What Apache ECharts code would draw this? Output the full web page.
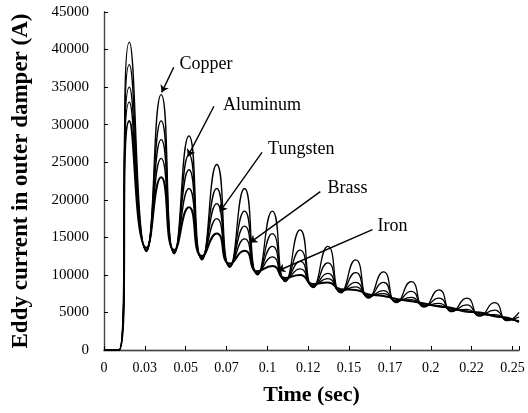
<!DOCTYPE html>
<html>
<head>
<meta charset="utf-8">
<script src="https://cdn.jsdelivr.net/npm/echarts@6/dist/echarts.min.js"></script>
<style>
  html, body { margin:0; padding:0; background:#fff; }
  #chart { width:528px; height:413px; }
</style>
</head>
<body>
<div id="chart"></div>
<script>
// ---- data ----
const timeSec = [0, 0.0092, 0.0155, 0.026, 0.035, 0.043, 0.052, 0.060, 0.069, 0.077, 0.086, 0.094,
  0.103, 0.111, 0.120, 0.128, 0.137, 0.145, 0.154, 0.162, 0.171, 0.179, 0.188, 0.196,
  0.205, 0.213, 0.222, 0.230, 0.239, 0.247, 0.254];

const copper   = [0, 0, 41000, 13100, 34000, 12800, 28500, 12000, 24700, 11000, 21500, 10000,
  18500, 9100, 16000, 8300, 13800, 7600, 12000, 6900, 10400, 6300, 9100, 5700,
  8000, 5100, 6900, 4500, 6300, 3900, 5000];
const aluminum = [0, 0, 38000, 13200, 30500, 12900, 26000, 12100, 21500, 11100, 18500, 10100,
  15500, 9200, 13300, 8400, 11600, 7700, 10300, 7000, 9000, 6400, 7800, 5800,
  6900, 5200, 6000, 4600, 5300, 4000, 4400];
const tungsten = [0, 0, 35000, 13300, 28000, 13000, 24000, 12200, 19500, 11200, 16500, 10200,
  13800, 9300, 11800, 8500, 10200, 7800, 9000, 7100, 7900, 6500, 7000, 5900,
  6200, 5300, 5400, 4700, 4700, 4100, 3900];
const brass    = [0, 0, 33000, 13400, 25500, 13100, 21500, 12300, 17500, 11300, 14800, 10300,
  12400, 9400, 10800, 8600, 9500, 7900, 8400, 7200, 7500, 6600, 6700, 6000,
  5900, 5400, 5200, 4800, 4500, 4200, 3800];
const iron     = [0, 0, 30500, 13600, 23000, 13300, 19000, 12500, 15500, 11500, 13200, 10500,
  11200, 9600, 10000, 8800, 9000, 8100, 8000, 7400, 7200, 6800, 6500, 6200,
  5800, 5600, 5100, 5000, 4500, 4300, 3700];

const seriesNames = ['Copper', 'Aluminum', 'Tungsten', 'Brass', 'Iron'];
const seriesData  = [copper, aluminum, tungsten, brass, iron];

// label positions and leader lines, in data units [t, value]
const labelPos   = [[0.0624, 38050], [0.0967, 32570], [0.1207, 26700], [0.149, 21500], [0.1766, 16420]];
const leaderFrom = [[0.0427, 37650], [0.0673, 32450], [0.0967, 26300], [0.1324, 21090], [0.1643, 16020]];
const leaderTo   = [[0.0353, 34300], [0.0513, 25770], [0.0709, 18420], [0.0894, 14290], [0.1066, 10550]];

const xTickLabels = ['0', '0.03', '0.05', '0.07', '0.1', '0.12', '0.15', '0.17', '0.2', '0.22', '0.25'];
const xStep = 0.025;

const SERIF = '"Liberation Serif", "DejaVu Serif", serif';

const chart = echarts.init(document.getElementById('chart'));

const series = seriesNames.map((name, i) => ({
  name,
  type: 'line',
  data: timeSec.map((t, j) => [t, seriesData[i][j]]),
  smooth: 0.6,
  showSymbol: false,
  lineStyle: { color: '#000', width: i === 4 ? 2 : 1.3 },
  markLine: {
    silent: true,
    symbol: ['none', 'arrow'],
    symbolSize: 7,
    label: { show: false },
    lineStyle: { color: '#000', width: 1.4, type: 'solid' },
    data: [[{ coord: leaderFrom[i] }, { coord: leaderTo[i] }]]
  },
  markPoint: {
    silent: true,
    symbol: 'circle',
    symbolSize: 0,
    label: {
      show: true, position: 'inside', color: '#000',
      fontFamily: SERIF, fontSize: 18, formatter: name
    },
    data: [{ coord: labelPos[i] }]
  }
}));

chart.setOption({
  backgroundColor: '#fff',
  animation: false,
  grid: { left: 104, right: 9, top: 12, bottom: 63 },
  xAxis: [{
    type: 'value', min: 0, max: 0.254, interval: xStep,
    name: 'Time (sec)', nameLocation: 'middle', nameGap: 34,
    nameTextStyle: { fontFamily: SERIF, fontSize: 22, fontWeight: 'bold', color: '#000' },
    axisLine: { lineStyle: { color: '#000', width: 1.3 } },
    axisTick: { inside: true, length: 4, lineStyle: { color: '#000' } },
    splitLine: { show: false },
    axisLabel: {
      color: '#000', fontFamily: SERIF, fontSize: 14, margin: 11,
      formatter: v => {
        const k = v / xStep;
        return Math.abs(k - Math.round(k)) < 0.01 ? xTickLabels[Math.round(k)] : '';
      }
    }
  }, {
    type: 'value', min: 0, max: 0.254, position: 'top',
    axisLine: { lineStyle: { color: '#555', type: 'dotted', width: 1 } },
    axisTick: { show: false }, axisLabel: { show: false }, splitLine: { show: false }
  }],
  yAxis: [{
    type: 'value', min: 0, max: 45000, interval: 5000,
    name: 'Eddy current in outer damper (A)', nameLocation: 'middle', nameGap: 71,
    nameTextStyle: { fontFamily: SERIF, fontSize: 23, fontWeight: 'bold', color: '#000' },
    axisLine: { show: true, lineStyle: { color: '#000', width: 1.3 } },
    axisTick: { show: true, inside: true, length: 4, lineStyle: { color: '#000' } },
    splitLine: { show: false },
    axisLabel: { color: '#000', fontFamily: SERIF, fontSize: 15, margin: 15, formatter: v => String(v) }
  }, {
    type: 'value', min: 0, max: 45000, position: 'right',
    axisLine: { show: true, lineStyle: { color: '#555', type: 'dotted', width: 1 } },
    axisTick: { show: false }, axisLabel: { show: false }, splitLine: { show: false }
  }],
  series
});
</script>
</body>
</html>
